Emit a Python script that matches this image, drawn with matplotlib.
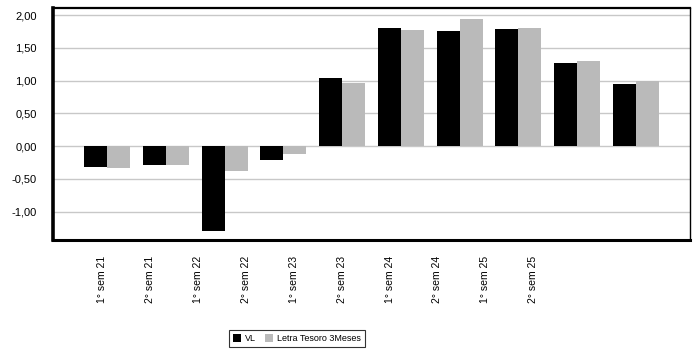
import matplotlib
matplotlib.use("Agg")
import matplotlib.pyplot as plt
import numpy as np
from matplotlib.ticker import FuncFormatter

categories = ["1° sem 21", "2° sem 21", "1° sem 22", "2° sem 22", "1° sem 23",
              "2° sem 23", "1° sem 24", "2° sem 24", "1° sem 25", "2° sem 25"]
vl = [-0.32, -0.29, -1.29, -0.21, 1.04, 1.80, 1.76, 1.79, 1.27, 0.95]
letra = [-0.33, -0.29, -0.38, -0.12, 0.96, 1.77, 1.94, 1.80, 1.30, 1.00]
series_names = ["VL", "Letra Tesoro 3Meses"]
yticks = [-1.0, -0.5, 0.0, 0.5, 1.0, 1.5, 2.0]

plt.rcParams["font.family"] = ["Liberation Sans", "DejaVu Sans"]

fig = plt.figure(figsize=(6.96, 3.51), dpi=100)
ax = fig.add_axes([53 / 696, 1 - 240 / 351, 637 / 696, 232 / 351])

x = np.arange(len(categories))
w = 0.39
b1 = ax.bar(x - w / 2, vl, w, color="black", label=series_names[0], zorder=3)
b2 = ax.bar(x + w / 2, letra, w, color="#bababa", label=series_names[1], zorder=3)

ax.set_xlim(-0.92, len(categories) - 1 + 0.92)
ax.set_ylim(-1.435, 2.11)
ax.set_yticks(yticks)
ax.yaxis.set_major_formatter(FuncFormatter(lambda v, p: f"{v:.2f}".replace(".", ",")))
ax.tick_params(axis="y", length=0, pad=11.5, labelsize=8)
ax.set_xticks([])
ax.grid(axis="y", color="#c8c8c8", linewidth=1.0, zorder=0)

for side, lw in (("left", 2.6), ("bottom", 2.2), ("top", 1.6), ("right", 1.0)):
    ax.spines[side].set_linewidth(lw)
    ax.spines[side].set_color("black")

# category labels on a separate bottom axis
lab = ax.twiny()
lab.set_xlim(-1.023, 12.27)
lab.xaxis.set_ticks_position("bottom")
lab.xaxis.set_label_position("bottom")
lab.set_xticks(x)
lab.set_xticklabels(categories, rotation=90, fontsize=7.5, va="top", ha="center")
lab.tick_params(axis="x", length=0, pad=11.5)
for s in lab.spines.values():
    s.set_visible(False)

leg = fig.legend(handles=[b1, b2], labels=series_names, loc="center",
                 bbox_to_anchor=(297 / 696, 1 - 338.5 / 351), ncol=2, fontsize=6.5,
                 frameon=True, fancybox=False, edgecolor="black", borderpad=0.45,
                 handlelength=0.9, handleheight=0.9, handletextpad=0.45,
                 columnspacing=1.0, borderaxespad=0)
leg.get_frame().set_linewidth(0.8)

fig.savefig("out.png", dpi=100)
